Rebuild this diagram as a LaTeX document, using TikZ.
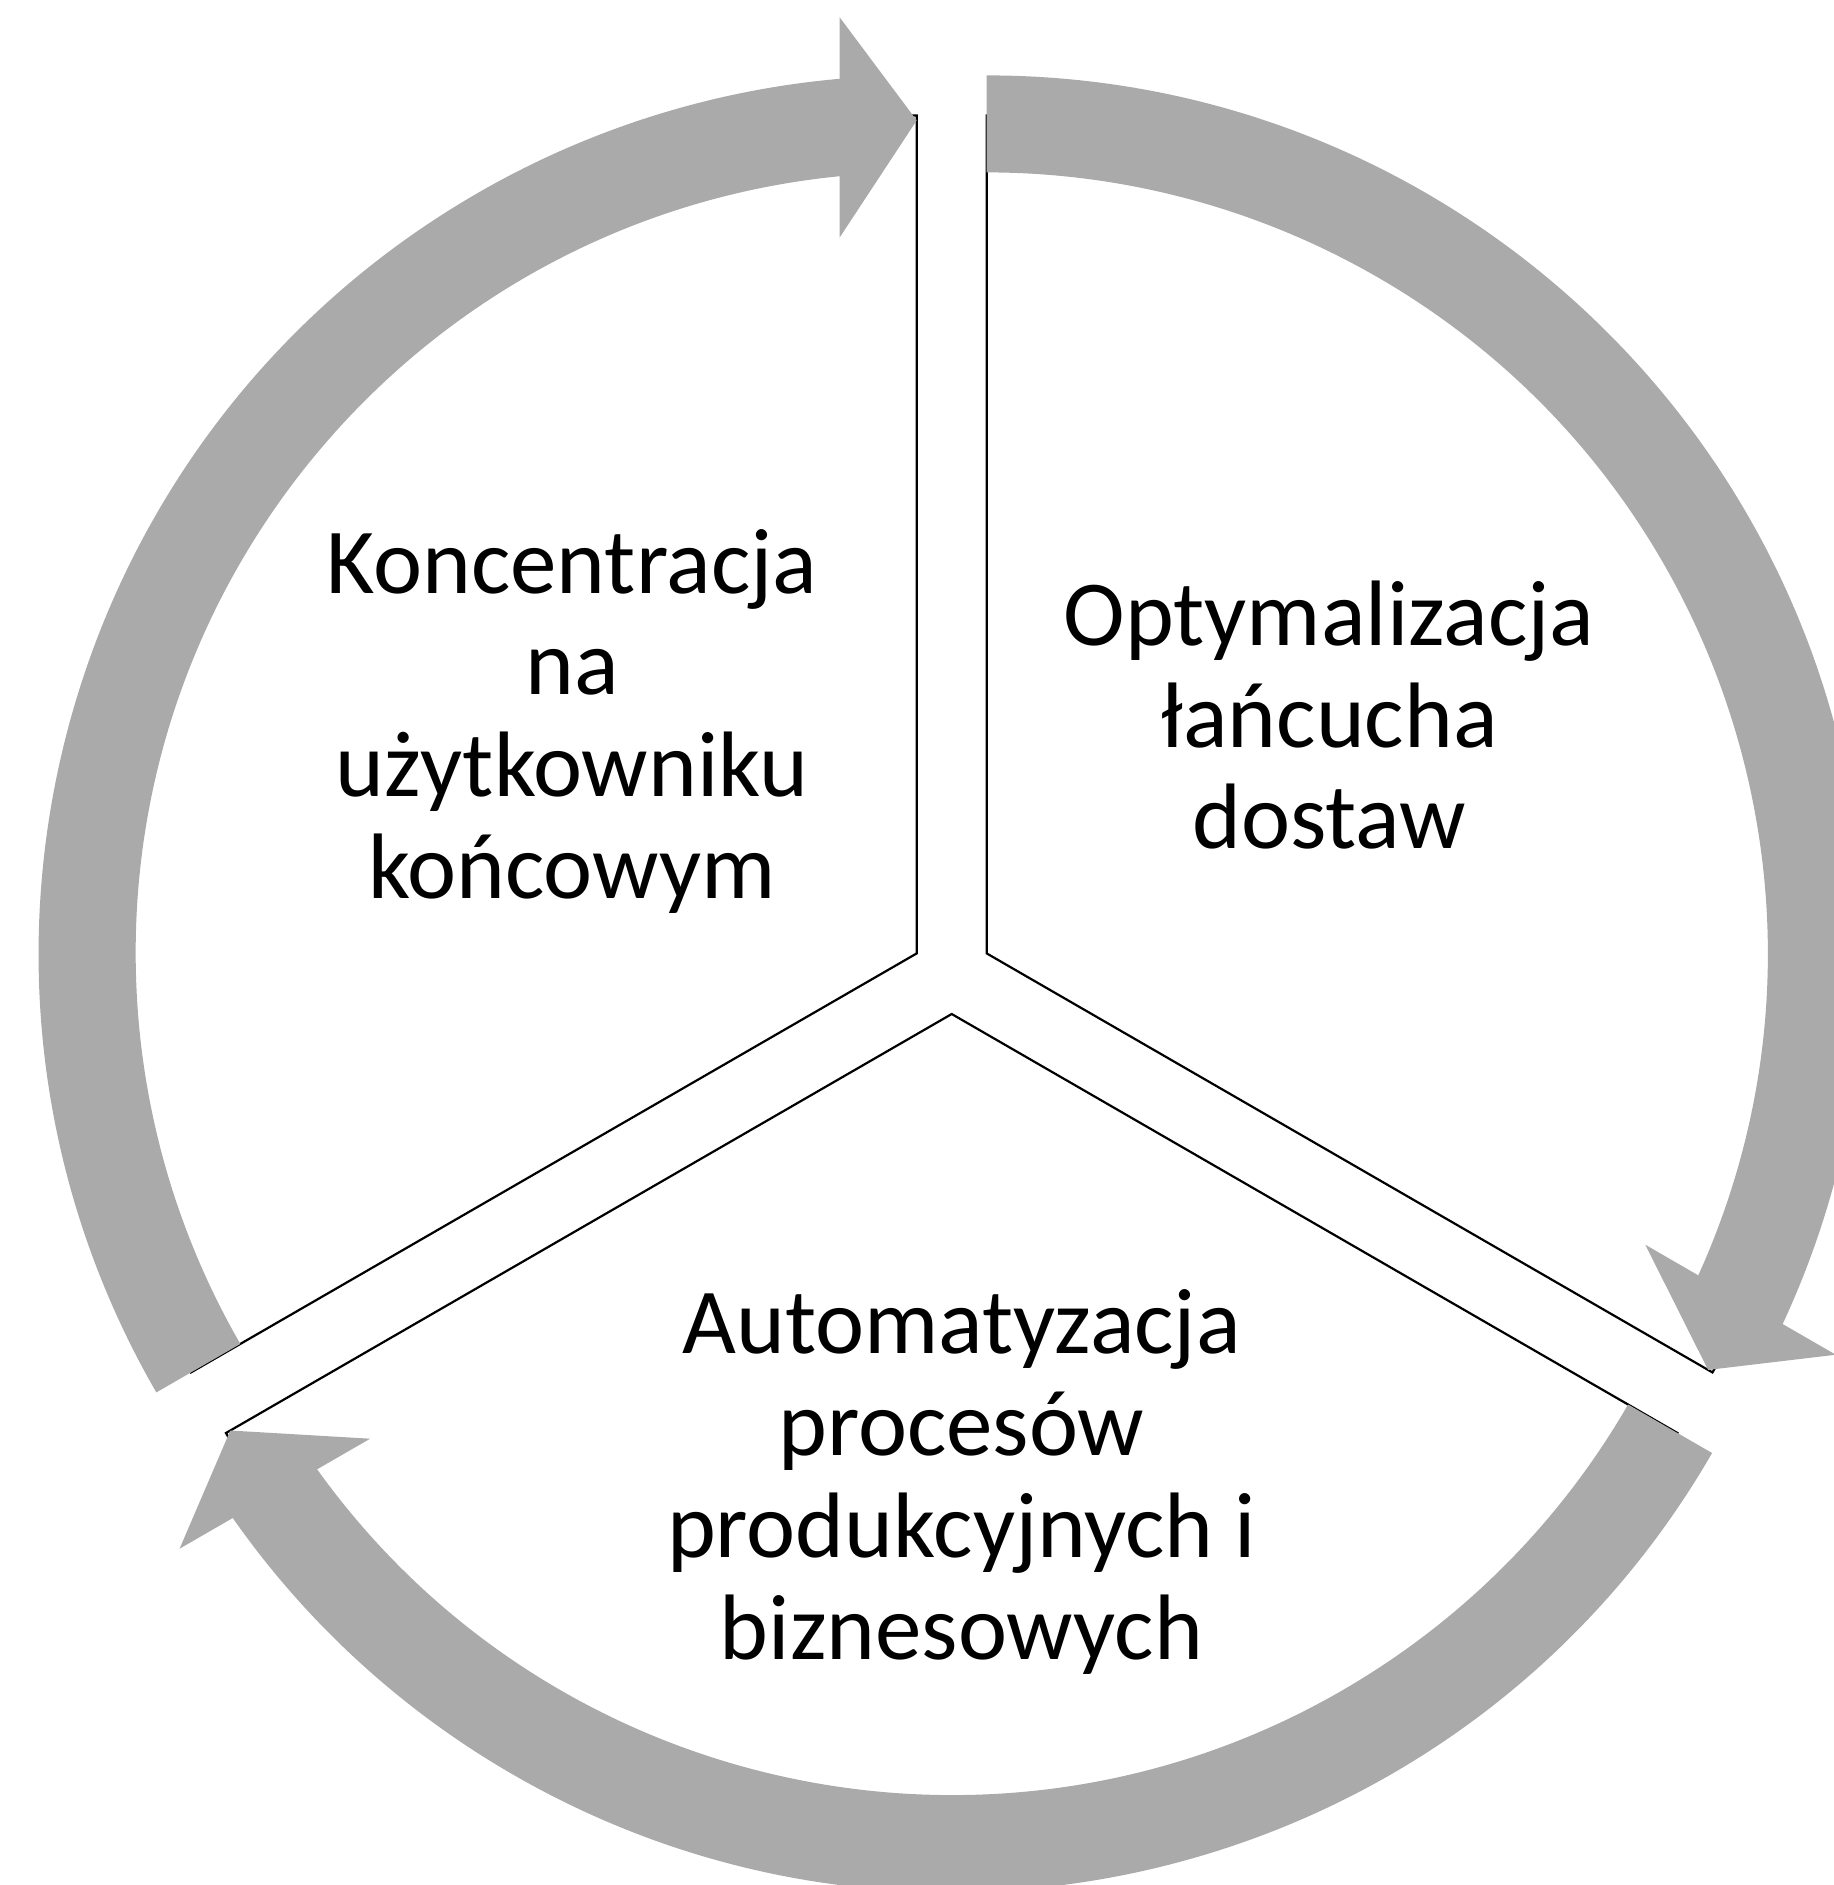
\documentclass[tikz,border=0pt]{standalone}
\usepackage{fontspec}
\setmainfont{Carlito}
\definecolor{ringgray}{RGB}{170,170,170}
\tikzset{
  wedge/.style={draw=black, line width=1.1pt, fill=white},
  cyclearrow/.style={fill=ringgray},
  segtext/.style={align=center, inner sep=0pt, anchor=base, font=\fontsize{46.5pt}{50.85pt}\selectfont}
}
\begin{document}
\begin{tikzpicture}[x=0.5pt,y=0.5pt,yscale=-1,xscale=1]
\useasboundingbox (0,0) rectangle (1834,1885);

% centres of the three segments
\coordinate (segL) at (916.7,953.4);
\coordinate (segR) at (986.7,953.4);
\coordinate (segB) at (951.7,1014);

% Segments
\foreach \c/\a in {segL/-90, segR/30, segB/150}
  \draw[wedge, shift={(\c)}, rotate=\a] (0,0) -- (-120:838) arc[start angle=-120, end angle=0, radius=838] -- cycle;

% Circular arrows
\foreach \c/\a in {segL/-90, segR/30, segB/150}{
  \fill[cyclearrow, shift={(\c)}, rotate=\a] (-120:878) arc[start angle=-120, end angle=-4, radius=878] -- (-4:781) arc[start angle=-4, end angle=-120, radius=781] -- cycle;
  \fill[cyclearrow, shift={(\c)}, rotate=\a] (833,0) -- (716,-77) -- (936,-77) -- cycle;
}

% Text Node (base = last line)
\node[segtext] (txtL) at (572,898.3) {Koncentracja\\na\\użytkowniku\\końcowym};
% Text Node
\node[segtext] (txtR) at (1329,848.8) {Optymalizacja\\łańcucha\\dostaw};
% Text Node
\node[segtext] (txtB) at (961.5,1659) {Automatyzacja\\procesów\\produkcyjnych i\\biznesowych};

\end{tikzpicture}
\end{document}
